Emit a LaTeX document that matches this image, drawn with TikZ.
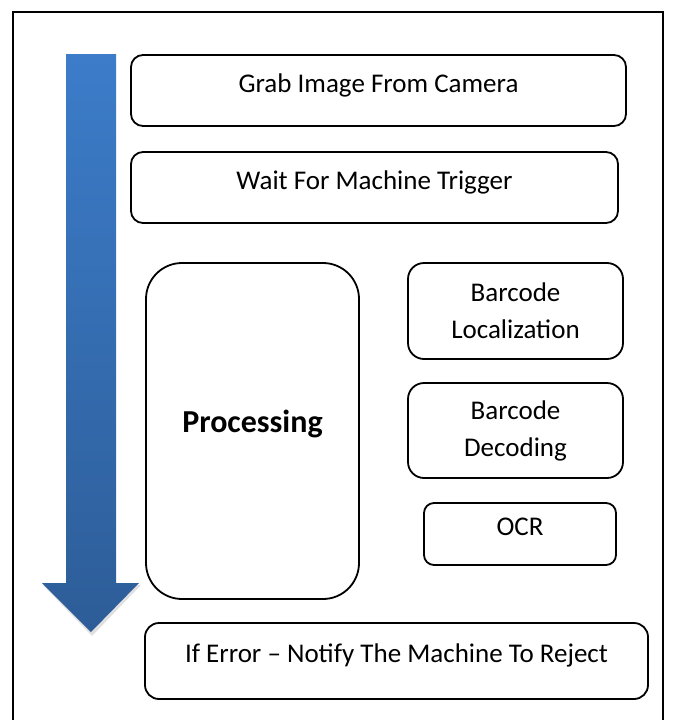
\documentclass[tikz,border=0pt]{standalone}
\usepackage{fontspec}
\setmainfont{Carlito}
\usepackage{xcolor}
\usepackage{tikz}

\definecolor{flowtop}{RGB}{60,124,201}
\definecolor{flowbottom}{RGB}{45,93,152}

\tikzset{
	stage/.style={draw=black, line width=1.8pt, rounded corners=#1, align=center,
		inner sep=0pt, font=\fontsize{27}{37}\selectfont},
	stage/.default=12pt,
	oneline/.style={text height=13pt, text depth=10pt},
}

\begin{document}
\begin{tikzpicture}[x=1pt,y=-1pt]
		\useasboundingbox (0,0) rectangle (676,720);
		% outer frame, open at the bottom
		\draw[line width=1.5pt] (13,740) -- (13,12) -- (663,12) -- (663,740);
		% big arrow on the left, with a faint shadow under the head
		\fill[black!12] (43,585) -- (141,585) -- (92,636) -- cycle;
		\shade[top color=flowtop, bottom color=flowbottom]
			(66,54) -- (116,54) -- (116,583) -- (139,583) -- (91,632) -- (42,583) -- (66,583) -- cycle;
		% steps
		\node[stage, oneline, minimum width=495pt, minimum height=71pt] (grab) at (378.5,90.5) {Grab Image From Camera};
		\node[stage, oneline, minimum width=487pt, minimum height=71pt] (wait) at (374.5,187.5) {Wait For Machine Trigger};
		\node[stage=36pt, oneline, minimum width=213pt, minimum height=336pt,
			font=\fontsize{32}{38}\selectfont\bfseries] (proc) at (252.5,431) {Processing};
		\node[stage=16pt, minimum width=215pt, minimum height=96pt] (loc) at (515.5,311) {Barcode\\Localization};
		\node[stage=16pt, minimum width=215pt, minimum height=95pt] (dec) at (515.5,430.5) {Barcode\\Decoding};
		\node[stage=10pt, oneline, minimum width=192pt, minimum height=62pt] (ocr) at (520,534) {OCR};
		\node[stage=14pt, oneline, minimum width=503pt, minimum height=76pt] (err) at (396.5,661) {If Error – Notify The Machine To Reject};
	\end{tikzpicture}
\end{document}
